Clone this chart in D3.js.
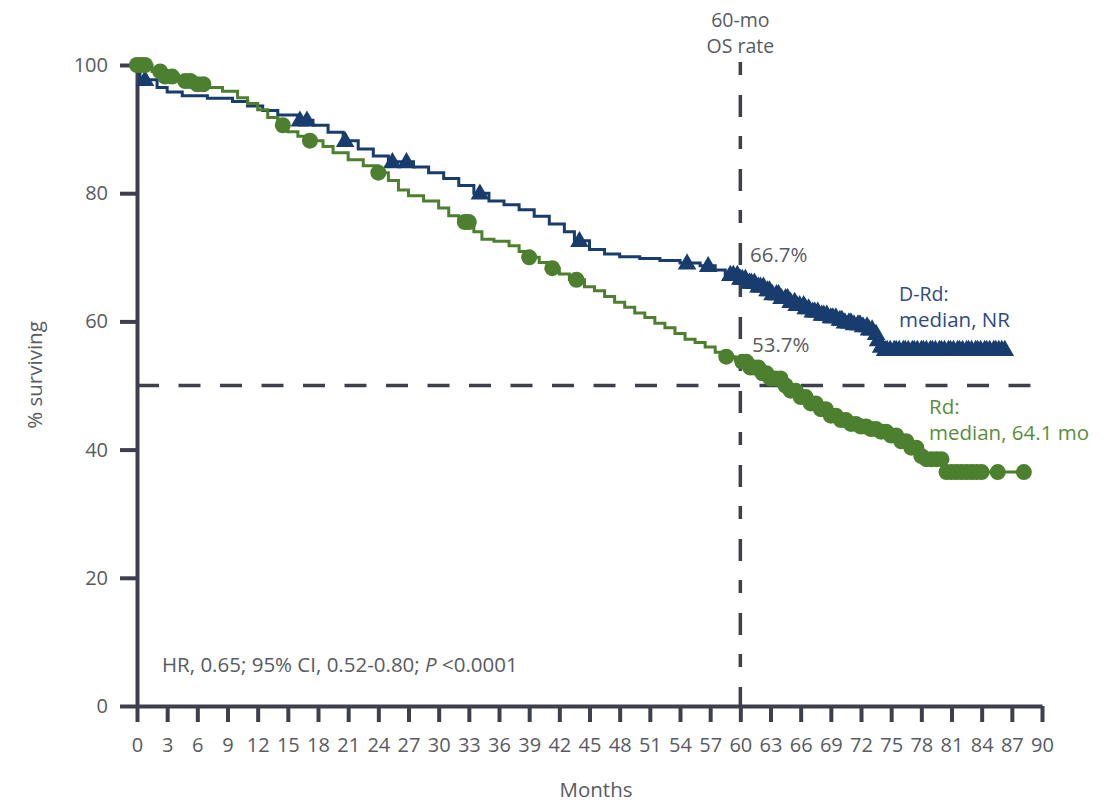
<!DOCTYPE html>
<html><head><meta charset="utf-8">
<script src="https://cdn.jsdelivr.net/npm/d3@7"></script>
<style>body{margin:0;background:#fff;} svg{display:block;font-family:"Open Sans",sans-serif;}</style>
</head><body><svg id="c" width="1115" height="804"></svg>
<script>
// ---- data ----
const xTicks = [0,3,6,9,12,15,18,21,24,27,30,33,36,39,42,45,48,51,54,57,60,63,66,69,72,75,78,81,84,87,90];
const yTicks = [0,20,40,60,80,100];

// D-Rd Kaplan-Meier step knots (months, % surviving)
const drdTimes = [0,0.3,2.0,3.0,4.5,7,9.5,11,12.5,14,16,17.5,19,20.5,22,23.5,25,27.5,29,30.5,32,33.5,35,36.5,38,39.5,41,42.5,43.5,45,46.5,48,50,52,54,56,57.5,58.5,60,60.8,61.6,62.4,63.2,64,64.8,65.6,66.4,67.2,68,68.8,69.6,70.4,71.2,72,72.8,73.3,73.6,73.9,74.2];
const drdSurv  = [100,97.7,96.5,95.8,95.2,94.8,94.3,93.6,92.9,92.2,91.4,90.6,89.5,88.2,86.9,85.8,84.9,84.1,83.2,82.3,81.2,80.0,78.8,78.2,77.4,76.4,75.2,74.0,72.6,71.2,70.5,70.1,69.8,69.5,69.1,68.7,68.0,67.3,66.7,66.1,65.5,64.9,64.3,63.7,63.1,62.6,62.1,61.6,61.1,60.7,60.3,59.9,59.6,59.3,58.8,58.1,57.1,56.1,55.6];
const drdEnd = 86.3;
const drdCensor = [0.8,16.2,16.9,20.7,25.4,26.8,34.1,44.0,54.7,56.8,59.0,59.3,59.7,60.0,60.2,60.5,60.9,61.1,61.4,61.8,62.0,62.3,62.7,62.9,63.2,63.6,63.8,64.1,64.5,64.7,65.0,65.4,65.6,65.9,66.3,66.5,66.8,67.2,67.4,67.7,68.1,68.3,68.6,69.0,69.2,69.5,69.9,70.1,70.4,70.8,71.0,71.3,71.7,71.9,72.2,72.6,72.8,73.1,73.5,73.7,74.0,74.4,74.6,74.9,75.3,75.5,75.8,76.2,76.4,76.7,77.1,77.3,77.6,78.0,78.2,78.5,78.9,79.1,79.4,79.8,80.0,80.3,80.7,80.9,81.2,81.6,81.8,82.1,82.5,82.7,83.0,83.4,83.6,83.9,84.3,84.5,84.8,85.2,85.4,85.7,86.0,86.3];

// Rd Kaplan-Meier step knots
const rdTimes = [0,1.5,2.5,4,5.5,7,8.5,10,11,12,13,14,15,16,17,18.5,19.5,21,22.5,24,25,26,27,28.5,30,31,32,33.5,34.3,35.5,37,38,39,40,41,42,43,44.5,45.5,46.5,47.5,48.5,49.5,50.5,51.5,52.5,53.5,54.5,55.5,56.5,57.5,58.5,59.5,60,61,62,63,64.1,65,66,67,68,69,70,71,72,73,74,75,76,77,78,78.5,80.3];
const rdSurv  = [100,99.0,98.2,97.5,97.0,96.5,95.9,94.9,94.0,93.0,91.8,90.6,89.6,88.9,88.2,87.3,86.3,85.2,84.3,83.2,82.0,80.5,79.6,78.8,77.7,76.5,75.5,74.0,72.8,72.5,71.8,70.9,70.0,69.2,68.3,67.4,66.5,65.4,64.8,63.9,63.0,62.2,61.3,60.6,59.7,59.0,58.1,57.2,56.7,56.0,55.2,54.5,53.9,53.7,52.8,51.9,51.1,50.0,49.2,48.2,47.2,46.3,45.3,44.6,44.0,43.6,43.2,42.8,42.2,41.3,40.3,39.0,38.5,36.5];
const rdEnd = 88.2;
const rdCensor = [0,0.4,0.8,2.3,2.8,3.5,4.8,5.3,6.0,6.6,14.5,17.2,24.0,32.6,33.0,39.0,41.3,43.7,58.6,60.2,60.6,61.0,61.4,61.8,62.2,62.6,63.0,63.5,64.0,64.5,65.0,65.5,66.0,66.5,67.0,67.5,68.0,68.5,69.0,69.5,70.0,70.5,71.0,71.5,72.0,72.5,73.0,73.5,74.0,74.5,75.0,75.5,76.0,76.5,77.0,77.5,78.0,78.5,79.0,79.5,80.0,80.5,81.0,81.5,82.0,82.5,83.0,83.5,84.0,85.6,88.2];

const landmarkMonth = 60, medianLevel = 50;
const drdAt60 = "66.7%", rdAt60 = "53.7%";

// ---- drawing ----
const svg = d3.select("#c");
const x = d3.scaleLinear().domain([0,90]).range([137,1042]);
const y = d3.scaleLinear().domain([0,100]).range([706,65]);
const axisCol = "#3d404b", textCol = "#585b62";
const blue = "#173c6d", green = "#4c7f2e";
const FS = 20.5;

function stepPts(times, surv, end){
  const p = times.map((t,i)=>[t,surv[i]]);
  p.push([end, surv[surv.length-1]]);
  return p;
}
function survAt(times, surv, t){
  const i = d3.bisectRight(times, t) - 1;
  return surv[Math.max(0,i)];
}

// reference lines
svg.append("line").attr("x1",x(0)).attr("x2",x(89.2)).attr("y1",y(medianLevel)).attr("y2",y(medianLevel))
  .attr("stroke",axisCol).attr("stroke-width",3.5).attr("stroke-dasharray","22,19.5");
svg.append("line").attr("x1",x(landmarkMonth)).attr("x2",x(landmarkMonth)).attr("y1",62).attr("y2",y(0))
  .attr("stroke",axisCol).attr("stroke-width",3.5).attr("stroke-dasharray","13,20,22,19");

// axes
const yAxis = d3.axisLeft(y).tickValues(yTicks).tickSize(17).tickSizeOuter(0).tickPadding(12);
const gy = svg.append("g").attr("transform",`translate(${x(0)},0)`).call(yAxis);
const xAxis = d3.axisBottom(x).tickValues(xTicks).tickSize(16).tickSizeOuter(0).tickPadding(16);
const gx = svg.append("g").attr("transform",`translate(0,${y(0)})`).call(xAxis);
[gx,gy].forEach(g=>{
  g.select(".domain").attr("stroke",axisCol).attr("stroke-width",4);
  g.selectAll(".tick line").attr("stroke",axisCol).attr("stroke-width",4);
  g.selectAll(".tick text").attr("fill",textCol).style("font-size","20px").style("font-family","'Open Sans',sans-serif");
});

const line = d3.line().x(d=>x(d[0])).y(d=>y(d[1])).curve(d3.curveStepAfter);

// D-Rd
svg.append("path").datum(stepPts(drdTimes,drdSurv,drdEnd)).attr("d",line)
  .attr("fill","none").attr("stroke",blue).attr("stroke-width",3);
const tri = d3.symbol().type(d3.symbolTriangle).size(150);
svg.append("g").selectAll("path").data(drdCensor).join("path")
  .attr("d",tri).attr("fill",blue)
  .attr("transform",d=>`translate(${x(d)},${y(survAt(drdTimes,drdSurv,d))+1})`);

// Rd
svg.append("path").datum(stepPts(rdTimes,rdSurv,rdEnd)).attr("d",line)
  .attr("fill","none").attr("stroke",green).attr("stroke-width",3);
svg.append("g").selectAll("circle").data(rdCensor).join("circle")
  .attr("cx",d=>x(d)).attr("cy",d=>y(survAt(rdTimes,rdSurv,d))).attr("r",8).attr("fill",green);

// texts
const T = (tx,ty,s,opts={}) => svg.append("text").attr("x",tx).attr("y",ty).text(s)
  .attr("fill",opts.fill||textCol).attr("text-anchor",opts.anchor||"start")
  .style("font-size",(opts.size||FS)+"px");
T(x(landmarkMonth),27,"60-mo",{anchor:"middle",size:19.5});
T(x(landmarkMonth),53,"OS rate",{anchor:"middle",size:19.5});
T(750,262,drdAt60);
T(752,352,rdAt60);
T(899,301,"D-Rd:",{fill:"#2e4a82",size:19.5});
T(899,327,"median, NR",{fill:"#2e4a82",size:20.5});
T(929,414,"Rd:",{fill:"#5a8d3c",size:20.5});
T(929,440,"median, 64.1 mo",{fill:"#5a8d3c",size:20.5});
const hr = svg.append("text").attr("x",162).attr("y",672).attr("fill",textCol).style("font-size","20.5px");
hr.append("tspan").text("HR, 0.65; 95% CI, 0.52-0.80; ");
hr.append("tspan").text("P").style("font-style","italic");
hr.append("tspan").text(" <0.0001");
T(596,797,"Months",{anchor:"middle",size:20.5});
svg.append("text").attr("transform","translate(42,375) rotate(-90)").attr("text-anchor","middle")
  .attr("fill",textCol).style("font-size","20.5px").text("% surviving");
</script></body></html>
